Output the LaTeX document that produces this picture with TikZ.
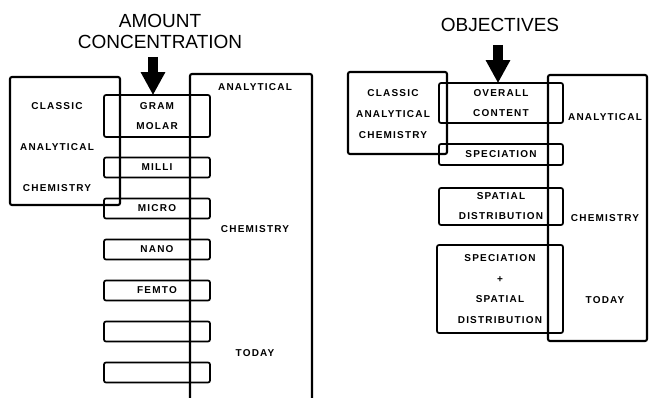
\documentclass[tikz,border=0pt]{standalone}
\usepackage{fontspec}
\usepackage{tikz}
\usetikzlibrary{arrows.meta}
\newfontfamily\lblfont{Liberation Sans}[LetterSpace=12]
\newfontfamily\ttlfont{Liberation Sans}
\newcommand{\lbl}{\lblfont\bfseries\fontsize{10}{12}\selectfont}
\newcommand{\ttl}{\ttlfont\fontsize{19}{21}\selectfont}
\tikzset{
	stepbox/.style={draw, line width=1.7pt, rounded corners=2pt, align=center,
		font=\lbl, inner sep=0pt, minimum width=#1},
	stepbox/.default=106pt,
	erabox/.style={draw, line width=2.1pt, rounded corners=2pt, inner sep=0pt},
	lab/.style={font=\lbl, inner sep=0pt},
	bigarrow/.style={line width=10pt, -{Triangle[length=23pt,width=23pt]}, shorten >=-1pt}
}

\begin{document}
\begin{tikzpicture}[x=1pt,y=-1pt]
	\useasboundingbox (0,0) rectangle (649,398);

	% amount concentration
	\node[font=\ttl, align=center] (amt) at (160,31) {AMOUNT\\CONCENTRATION};
	\node[erabox, minimum width=110pt, minimum height=128pt] (clsL) at (65,141) {};
	\node[erabox, minimum width=122pt, minimum height=346pt] (todL) at (251,247) {};
	\node[lab] at (57,106) {CLASSIC};
	\node[lab] at (57,147) {ANALYTICAL};
	\node[lab] at (57,188) {CHEMISTRY};
	\node[lab] at (255,87) {ANALYTICAL};
	\node[lab] at (255,229) {CHEMISTRY};
	\node[lab] at (255,353) {TODAY};

	\node[stepbox, minimum height=42pt] (gram) at (157,116) {GRAM\\[8pt]MOLAR};
	\foreach \name/\txt [count=\i from 0] in {milli/MILLI,micro/MICRO,nano/NANO,femto/FEMTO,emptyA/,emptyB/}
		\node[stepbox, minimum height=20pt] (\name) at (157,{167.5+41*\i}) {\txt};

	\coordinate (amtTop) at (153,57);
	\draw[bigarrow] (amtTop) -- (gram.north -| amtTop);

	% objectives
	\node[font=\ttl] (obj) at (500,25) {OBJECTIVES};
	\node[erabox, minimum width=99pt, minimum height=82pt] (clsR) at (397.5,113) {};
	\node[erabox, minimum width=99pt, minimum height=266pt] (todR) at (597.5,208) {};
	\node[lab] at (393,93) {CLASSIC};
	\node[lab] at (393,114) {ANALYTICAL};
	\node[lab] at (393,135) {CHEMISTRY};
	\node[lab] at (605,117) {ANALYTICAL};
	\node[lab] at (605,218) {CHEMISTRY};
	\node[lab] at (605,300) {TODAY};

	\node[stepbox=124pt, minimum height=40pt] (overall) at (501,103) {OVERALL\\[8pt]CONTENT};
	\node[stepbox=124pt, minimum height=21pt] (spec) at (501,154.5) {SPECIATION};
	\node[stepbox=124pt, minimum height=37pt] (spat) at (501,206.5) {SPATIAL\\[8pt]DISTRIBUTION};
	\node[stepbox=126pt, minimum height=88pt] (both) at (500,289)
		{SPECIATION\\[8.5pt]+\\[8.5pt]SPATIAL\\[8.5pt]DISTRIBUTION};

	\coordinate (objTop) at (498,45);
	\draw[bigarrow] (objTop) -- (overall.north -| objTop);
\end{tikzpicture}
\end{document}
